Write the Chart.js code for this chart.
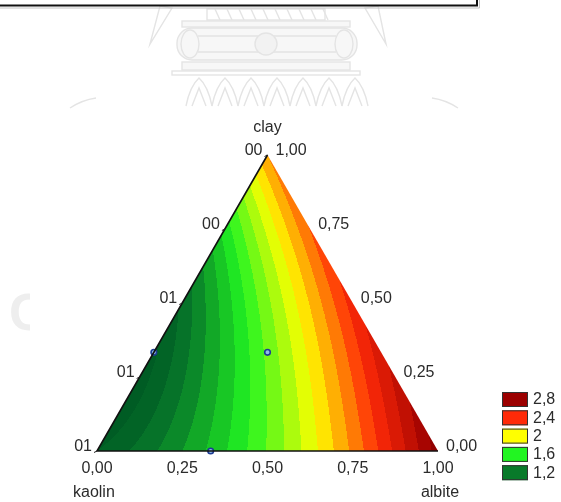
<!DOCTYPE html>
<html>
<head>
<meta charset="utf-8">
<script src="https://cdn.jsdelivr.net/npm/chart.js@4/dist/chart.umd.min.js"></script>
<style>
  html, body { margin: 0; padding: 0; background: #fff; }
  canvas { display: block; }
</style>
</head>
<body>
<canvas id="c" width="561" height="502"></canvas>
<script>
// Mixture components, in the order [kaolin, albite, clay]
const componentNames = ['kaolin', 'albite', 'clay'];

// Special cubic Scheffé model of the response
const linearCoef = [1.00, 2.85, 2.20];    // kaolin, albite, clay
const binaryCoef = [-0.87, -1.90, -0.30]; // kaolin·albite, kaolin·clay, albite·clay
const ternaryCoef = [1.35];               // kaolin·albite·clay

// Contour banding and colour scale
const bandStep = 0.1;
const stopValues = [1.0, 1.2, 1.6, 2.0, 2.4, 2.8, 3.0];
const stopColors = [[0, 92, 36], [8, 122, 42], [34, 245, 34], [255, 255, 0], [255, 42, 8], [155, 0, 0], [118, 0, 0]];

// Legend entries
const legendLevels = [2.8, 2.4, 2.0, 1.6, 1.2];
const legendLabels = ['2,8', '2,4', '2', '1,6', '1,2'];

// Experimental design points [kaolin, albite, clay]
const designPoints = [[2 / 3, 0, 1 / 3], [1 / 3, 1 / 3, 1 / 3], [2 / 3, 1 / 3, 0]];

// Edge tick values and labels
const bottomTickValues = [0, 0.25, 0.5, 0.75, 1];
const bottomTickLabels = ['0,00', '0,25', '0,50', '0,75', '1,00'];
const rightTickValues = [0, 0.25, 0.5, 0.75, 1];
const rightTickLabels = ['0,00', '0,25', '0,50', '0,75', '1,00'];
const leftTickValues = [0, 0.25, 0.5, 0.75, 1];
const leftTickLabels = ['01', '01', '01', '00', '00'];

// Triangle outline drawn along the kaolin–clay and kaolin–albite sides
const outlineVertices = [[0, 0, 1], [1, 0, 0], [0, 1, 0]];

const H = Math.sqrt(3) / 2;
function toXY(k, a, c) { return { x: a + c / 2, y: c * H }; }
function modelValue(k, a, c) {
  return linearCoef[0] * k + linearCoef[1] * a + linearCoef[2] * c +
         binaryCoef[0] * k * a + binaryCoef[1] * k * c + binaryCoef[2] * a * c +
         ternaryCoef[0] * k * a * c;
}
function colorFor(v) {
  if (v <= stopValues[0]) return stopColors[0];
  for (let i = 1; i < stopValues.length; i++) {
    if (v <= stopValues[i]) {
      const t = (v - stopValues[i - 1]) / (stopValues[i] - stopValues[i - 1]);
      const c0 = stopColors[i - 1], c1 = stopColors[i];
      return [0, 1, 2].map(j => Math.round(c0[j] + (c1[j] - c0[j]) * t));
    }
  }
  return stopColors[stopColors.length - 1];
}
function bandColor(v) {
  const mid = Math.floor(v / bandStep) * bandStep + bandStep / 2;
  return colorFor(mid);
}
const rgb = c => `rgb(${c[0]},${c[1]},${c[2]})`;

const FONT = '16px "Liberation Sans", Arial, sans-serif';
const TEXT = '#2b2b2b';

// Filled contour bands, evaluated per pixel through the chart scales
const surfacePlugin = {
  id: 'ternarySurface',
  beforeDatasetsDraw(chart) {
    const { ctx, chartArea: ca, scales: { x: xs, y: ys } } = chart;
    const L = Math.floor(ca.left), T = Math.floor(ca.top);
    const W = Math.ceil(ca.right) - L + 1, Ht = Math.ceil(ca.bottom) - T + 1;
    const off = document.createElement('canvas');
    off.width = W; off.height = Ht;
    const octx = off.getContext('2d');
    const img = octx.createImageData(W, Ht);
    for (let py = 0; py < Ht; py++) {
      const yv = ys.getValueForPixel(T + py + 0.5);
      for (let px = 0; px < W; px++) {
        const xv = xs.getValueForPixel(L + px + 0.5);
        const c = Math.max(0, Math.min(1, yv / H));
        const a = Math.max(0, Math.min(1 - c, xv - c / 2));
        const k = Math.max(0, 1 - a - c);
        const col = bandColor(modelValue(k, a, c));
        const i = (py * W + px) * 4;
        img.data[i] = col[0]; img.data[i + 1] = col[1]; img.data[i + 2] = col[2]; img.data[i + 3] = 255;
      }
    }
    octx.putImageData(img, 0, 0);
    const p = outlineVertices.map(v => {
      const q = toXY(v[0], v[1], v[2]);
      return [xs.getPixelForValue(q.x), ys.getPixelForValue(q.y)];
    });
    ctx.save();
    ctx.beginPath();
    ctx.moveTo(p[0][0], p[0][1]); ctx.lineTo(p[1][0], p[1][1]); ctx.lineTo(p[2][0], p[2][1]);
    ctx.closePath();
    ctx.clip();
    ctx.filter = 'blur(0.5px)';
    ctx.drawImage(off, L, T);
    ctx.restore();
  }
};

// Faint background emblem, frame and lettering outside the plot
const decorPlugin = {
  id: 'decor',
  beforeDraw(chart) {
    const ctx = chart.ctx;
    ctx.save();
    ctx.strokeStyle = '#e4e4e4';
    ctx.fillStyle = '#f7f7f7';
    ctx.lineWidth = 1.4;
    // crown
    ctx.strokeRect(207, 9, 118, 11);
    for (let x = 215; x < 325; x += 12) { ctx.beginPath(); ctx.moveTo(x, 9); ctx.lineTo(x + 5, 20); ctx.stroke(); }
    // upper plate
    ctx.fillRect(182, 21, 168, 6); ctx.strokeRect(182, 21, 168, 6);
    // drum body
    ctx.beginPath();
    ctx.roundRect(177, 28, 180, 32, 15);
    ctx.fill(); ctx.stroke();
    ctx.beginPath(); ctx.moveTo(198, 36); ctx.lineTo(336, 36); ctx.moveTo(198, 52); ctx.lineTo(336, 52); ctx.stroke();
    ctx.beginPath(); ctx.ellipse(190, 44, 9, 14, 0, 0, Math.PI * 2); ctx.stroke();
    ctx.beginPath(); ctx.ellipse(344, 44, 9, 14, 0, 0, Math.PI * 2); ctx.stroke();
    ctx.fillStyle = '#f2f2f2';
    ctx.beginPath(); ctx.arc(266, 44, 11, 0, Math.PI * 2); ctx.fill(); ctx.stroke();
    // lower plates
    ctx.fillStyle = '#f7f7f7';
    ctx.fillRect(182, 62, 168, 8); ctx.strokeRect(182, 62, 168, 8);
    ctx.strokeRect(172, 71, 188, 4);
    // lotus petals
    for (let x = 186; x < 345; x += 26) {
      ctx.beginPath();
      ctx.moveTo(x, 106);
      ctx.quadraticCurveTo(x + 4, 86, x + 13, 78);
      ctx.quadraticCurveTo(x + 22, 86, x + 26, 106);
      ctx.stroke();
      ctx.beginPath();
      ctx.moveTo(x + 6, 106); ctx.lineTo(x + 13, 88); ctx.lineTo(x + 20, 106);
      ctx.stroke();
    }
    // side spikes
    ctx.beginPath(); ctx.moveTo(160, 6); ctx.lineTo(172, 8); ctx.lineTo(150, 44); ctx.closePath(); ctx.stroke();
    ctx.beginPath(); ctx.moveTo(365, 8); ctx.lineTo(378, 6); ctx.lineTo(386, 44); ctx.closePath(); ctx.stroke();
    // outer arcs
    ctx.beginPath(); ctx.moveTo(70, 108); ctx.quadraticCurveTo(82, 100, 96, 98); ctx.stroke();
    ctx.beginPath(); ctx.moveTo(432, 98); ctx.quadraticCurveTo(446, 100, 458, 108); ctx.stroke();
    // large faint letter at the left margin
    ctx.beginPath(); ctx.rect(0, 260, 30, 90); ctx.clip();
    ctx.fillStyle = '#eeeeee';
    ctx.font = 'bold 52px "Liberation Sans", Arial, sans-serif';
    ctx.textBaseline = 'alphabetic';
    ctx.fillText('C', 9, 330);
    ctx.restore();

    // frame along the top
    ctx.save();
    ctx.strokeStyle = '#c4c4c4'; ctx.lineWidth = 1;
    ctx.beginPath(); ctx.moveTo(0, 8); ctx.lineTo(479.5, 8); ctx.lineTo(479.5, 0); ctx.stroke();
    ctx.strokeStyle = '#111'; ctx.lineWidth = 2;
    ctx.beginPath(); ctx.moveTo(0, 5.5); ctx.lineTo(477, 5.5); ctx.lineTo(477, 0); ctx.stroke();
    ctx.restore();
  },
  afterDraw(chart) {
    const { ctx, scales: { x: xs, y: ys } } = chart;
    const px = (k, a, c) => { const q = toXY(k, a, c); return [xs.getPixelForValue(q.x), ys.getPixelForValue(q.y)]; };
    ctx.save();
    ctx.font = FONT;
    ctx.fillStyle = TEXT;
    ctx.textBaseline = 'middle';
    // bottom (albite) ticks
    ctx.textAlign = 'center';
    bottomTickValues.forEach((a, i) => { const p = px(1 - a, a, 0); ctx.fillText(bottomTickLabels[i], p[0], p[1] + 18); });
    // right (clay) ticks
    ctx.textAlign = 'left';
    rightTickValues.forEach((c, i) => { const p = px(0, 1 - c, c); ctx.fillText(rightTickLabels[i], p[0] + 8, p[1] - 4); });
    // left ticks
    ctx.textAlign = 'right';
    leftTickValues.forEach((c, i) => { const p = px(1 - c, 0, c); ctx.fillText(leftTickLabels[i], p[0] - 5, p[1] - 4); });
    // small tick marks at the left side
    ctx.strokeStyle = '#222'; ctx.lineWidth = 1;
    leftTickValues.forEach(c => { const p = px(1 - c, 0, c); ctx.beginPath(); ctx.moveTo(p[0], p[1]); ctx.lineTo(p[0] - 3, p[1] + 1.5); ctx.stroke(); });
    // vertex names
    const top = px(0, 0, 1), bl = px(1, 0, 0), br = px(0, 1, 0);
    ctx.textAlign = 'center';
    ctx.fillText(componentNames[2], top[0], top[1] - 27);
    ctx.textAlign = 'left';
    ctx.fillText(componentNames[0], bl[0] - 24, bl[1] + 42);
    ctx.textAlign = 'center';
    ctx.fillText(componentNames[1], br[0] + 2, br[1] + 42);
    // legend
    const lx = 502, ly0 = 392, bw = 26, bh = 15, step = 18.3;
    legendLevels.forEach((v, i) => {
      const y = ly0 + i * step;
      ctx.fillStyle = rgb(colorFor(v));
      ctx.fillRect(lx, y, bw, bh);
      ctx.strokeStyle = '#333'; ctx.lineWidth = 1;
      ctx.strokeRect(lx + 0.5, y + 0.5, bw - 1, bh - 1);
      ctx.fillStyle = TEXT;
      ctx.textAlign = 'left';
      ctx.fillText(legendLabels[i], lx + bw + 5, y + bh / 2 + 0.5);
    });
    ctx.restore();
  }
};

const outlineData = outlineVertices.map(v => toXY(v[0], v[1], v[2]));
const pointData = designPoints.map(v => toXY(v[0], v[1], v[2]));

new Chart(document.getElementById('c'), {
  type: 'scatter',
  data: {
    datasets: [
      {
        label: 'outline',
        data: outlineData,
        showLine: true,
        borderColor: '#111',
        borderWidth: 1.6,
        pointRadius: 0,
        clip: false
      },
      {
        label: 'design points',
        data: pointData,
        pointRadius: 2.8,
        pointBorderWidth: 1.6,
        pointBorderColor: '#1e3c94',
        pointBackgroundColor: '#8fbce6',
        clip: false
      }
    ]
  },
  options: {
    responsive: false,
    animation: false,
    devicePixelRatio: 1,
    layout: { padding: { left: 97, right: 123, top: 155, bottom: 51 } },
    scales: {
      x: { type: 'linear', min: 0, max: 1, display: false },
      y: { type: 'linear', min: 0, max: H, display: false }
    },
    plugins: { legend: { display: false }, tooltip: { enabled: false } }
  },
  plugins: [surfacePlugin, decorPlugin]
});
</script>
</body>
</html>
